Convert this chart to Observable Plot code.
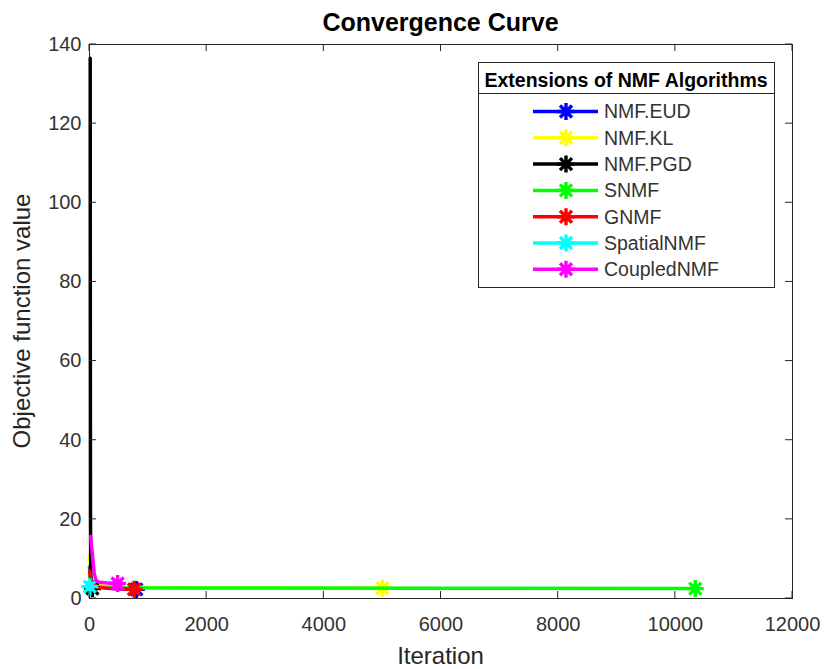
<!DOCTYPE html>
<html><head><meta charset="utf-8">
<script src="https://cdn.jsdelivr.net/npm/d3@7"></script>
<script src="https://cdn.jsdelivr.net/npm/@observablehq/plot@0.6"></script>
<style>body{margin:0;background:#fff}</style>
</head><body><div id="chart"></div>
<script>
const seriesNames = ["NMF.EUD","NMF.KL","NMF.PGD","SNMF","GNMF","SpatialNMF","CoupledNMF"];
const seriesColors = ["#0000ff","#ffff00","#000000","#00ff00","#ff0000","#00ffff","#ff00ff"];
const eudIter = [0, 20, 60, 150, 400, 800];
const eudVal = [8.0, 4.5, 3.3, 2.9, 2.5, 2.3];
const klIter = [0, 30, 100, 400, 1500, 3000, 5000];
const klVal = [11.0, 4.8, 3.4, 2.9, 2.7, 2.65, 2.6];
const pgdIter = [12, 14, 17, 22, 35, 50];
const pgdVal = [136.5, 70, 20, 6, 3.2, 2.5];
const snmfIter = [0, 40, 150, 600, 2000, 6000, 10340];
const snmfVal = [6.0, 3.6, 2.9, 2.7, 2.65, 2.6, 2.5];
const gnmfIter = [0, 30, 100, 300, 760];
const gnmfVal = [7.0, 4.0, 3.0, 2.6, 2.35];
const spatialIter = [0, 3, 5];
const spatialVal = [4.5, 3.4, 3.0];
const coupledIter = [20, 50, 80, 110, 160, 300, 480];
const coupledVal = [15.7, 11, 6.5, 4.6, 4.1, 3.9, 3.8];
const xTicks = [0, 2000, 4000, 6000, 8000, 10000, 12000];
const yTicks = [0, 20, 40, 60, 80, 100, 120, 140];
const titleText = "Convergence Curve";
const xLabel = "Iteration";
const yLabel = "Objective function value";
const legendTitle = "Extensions of NMF Algorithms";

const iters = [eudIter, klIter, pgdIter, snmfIter, gnmfIter, spatialIter, coupledIter];
const vals = [eudVal, klVal, pgdVal, snmfVal, gnmfVal, spatialVal, coupledVal];
const series = seriesNames.map((name, i) => ({
  name, color: seriesColors[i],
  points: iters[i].map((x, j) => ({x, y: vals[i][j]}))
}));

const star8 = {
  draw(ctx, size) {
    const r = Math.sqrt(size / Math.PI);
    const d = r * Math.SQRT1_2;
    ctx.moveTo(-r, 0); ctx.lineTo(r, 0);
    ctx.moveTo(0, -r); ctx.lineTo(0, r);
    ctx.moveTo(-d, -d); ctx.lineTo(d, d);
    ctx.moveTo(-d, d); ctx.lineTo(d, -d);
  }
};

const FONT = "'Liberation Sans', Arial, Helvetica, sans-serif";
const INK = "#262626";
const LW = 3.5, MR = 8.5, MW = 3.4;

const marks = [Plot.frame({stroke: INK, strokeWidth: 1})];
for (const s of series) {
  marks.push(Plot.line(s.points, {x: "x", y: "y", stroke: s.color, strokeWidth: LW, strokeLinejoin: "round"}));
  marks.push(Plot.dot([s.points[s.points.length - 1]], {x: "x", y: "y", symbol: star8, r: MR, stroke: s.color, strokeWidth: MW, fill: "none"}));
}
marks.push(Plot.axisX({ticks: xTicks, tickFormat: d => String(d), tickSize: 0, tickPadding: 18, fontSize: 20, label: null, fill: "#333"}));
marks.push(Plot.axisY({ticks: yTicks, tickFormat: d => String(d), tickSize: 0, tickPadding: 8, fontSize: 20, label: null, fill: "#333"}));

const plot = Plot.plot({
  width: 824, height: 669,
  marginLeft: 89, marginRight: 32, marginTop: 44, marginBottom: 71,
  x: {domain: [0, 12000]},
  y: {domain: [0, 140]},
  style: {fontFamily: FONT, fontSize: "20px", color: INK, background: "#fff"},
  marks
});
document.getElementById("chart").appendChild(plot);

const sx = plot.scale("x"), sy = plot.scale("y");
const x0 = sx.apply(0), x1 = sx.apply(12000), y0 = sy.apply(0), y1 = sy.apply(140);
const svg = d3.select(plot);
const tg = svg.append("g").attr("stroke", INK).attr("stroke-width", 1);
const TL = 7;
for (const t of xTicks) {
  const px = sx.apply(t);
  tg.append("line").attr("x1", px).attr("x2", px).attr("y1", y0).attr("y2", y0 - TL);
  tg.append("line").attr("x1", px).attr("x2", px).attr("y1", y1).attr("y2", y1 + TL);
}
for (const t of yTicks) {
  const py = sy.apply(t);
  tg.append("line").attr("y1", py).attr("y2", py).attr("x1", x0).attr("x2", x0 + TL);
  tg.append("line").attr("y1", py).attr("y2", py).attr("x1", x1).attr("x2", x1 - TL);
}

// title and labels
svg.append("text").attr("x", (x0 + x1) / 2).attr("y", 31).attr("text-anchor", "middle")
  .attr("font-family", FONT).attr("font-size", 25).attr("font-weight", "bold").attr("fill", "#000").text(titleText);
svg.append("text").attr("x", (x0 + x1) / 2).attr("y", 664).attr("text-anchor", "middle")
  .attr("font-family", FONT).attr("font-size", 24).attr("fill", INK).text(xLabel);
svg.append("text").attr("transform", `translate(30,${(y0 + y1) / 2}) rotate(-90)`).attr("text-anchor", "middle")
  .attr("font-family", FONT).attr("font-size", 24).attr("fill", INK).text(yLabel);

// legend
const L = {x: 478, y: 62, w: 296, h: 225};
const lg = svg.append("g").attr("text-anchor", "start");
lg.append("rect").attr("x", L.x + 0.5).attr("y", L.y + 0.5).attr("width", L.w).attr("height", L.h)
  .attr("fill", "#fff").attr("stroke", INK).attr("stroke-width", 1);
lg.append("text").attr("x", L.x + L.w / 2).attr("y", 87).attr("text-anchor", "middle")
  .attr("font-family", FONT).attr("font-size", 19.5).attr("font-weight", "bold").attr("fill", "#000").text(legendTitle);
lg.append("line").attr("x1", L.x).attr("x2", L.x + L.w).attr("y1", 93.5).attr("y2", 93.5).attr("stroke", INK);
const starPath = d3.symbol(star8, MR * MR * Math.PI)();
series.forEach((s, i) => {
  const cy = 111.5 + i * 26.3;
  lg.append("line").attr("x1", 533).attr("x2", 598).attr("y1", cy).attr("y2", cy)
    .attr("stroke", s.color).attr("stroke-width", LW);
  lg.append("path").attr("d", starPath).attr("transform", `translate(566,${cy})`)
    .attr("fill", "none").attr("stroke", s.color).attr("stroke-width", MW);
  lg.append("text").attr("x", 604).attr("y", cy).attr("dy", "0.35em").attr("text-anchor", "start")
    .attr("font-family", FONT).attr("font-size", 19.5).attr("fill", "#333").text(s.name);
});
</script>
</body></html>
